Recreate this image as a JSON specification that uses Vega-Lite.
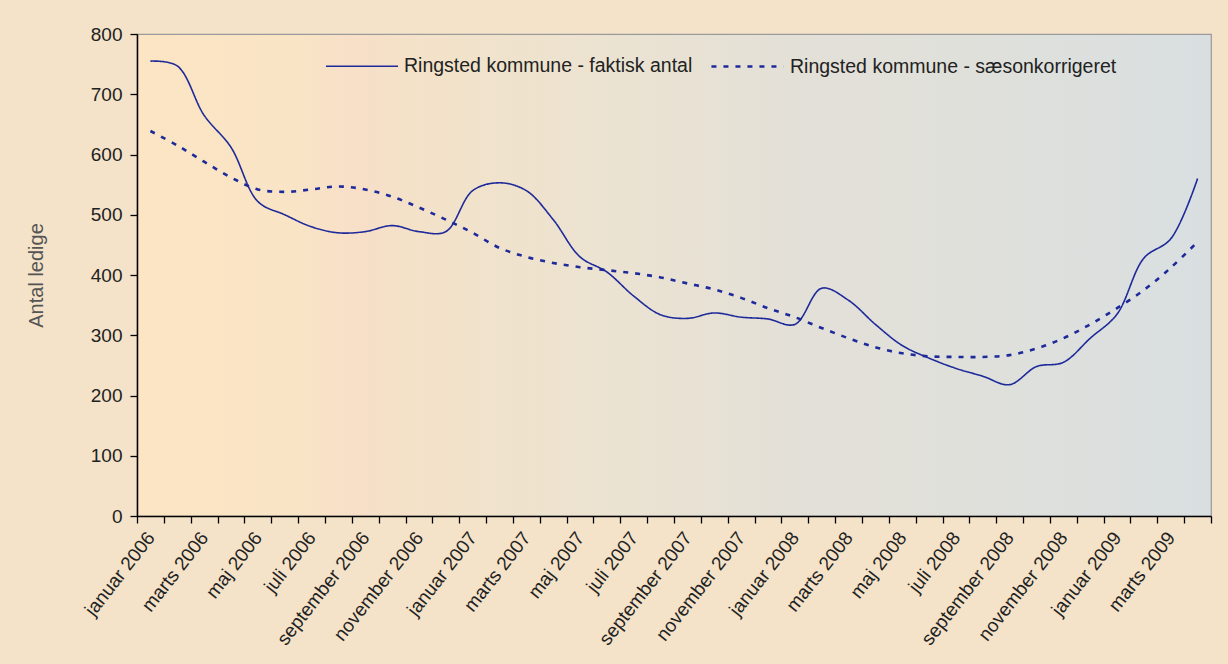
{
  "$schema": "https://vega.github.io/schema/vega-lite/v6.json",
  "width": 1074,
  "height": 482,
  "autosize": {"type": "none"},
  "padding": {"left": 137, "top": 34, "right": 17, "bottom": 148},
  "background": "#F4E3C8",
  "config": {
    "font": "Liberation Sans",
    "view": {
      "stroke": "#9A9A9A",
      "strokeWidth": 1.2,
      "fill": {
        "gradient": "linear",
        "x1": 0, "y1": 0, "x2": 1, "y2": 0,
        "stops": [
          {"offset": 0, "color": "#FBE5C3"},
          {"offset": 0.15, "color": "#F9E4C6"},
          {"offset": 0.21, "color": "#F7DFC8"},
          {"offset": 0.27, "color": "#F3E2C9"},
          {"offset": 0.43, "color": "#ECE3D1"},
          {"offset": 0.62, "color": "#E3E0D8"},
          {"offset": 0.8, "color": "#DFE0DB"},
          {"offset": 1, "color": "#D9DFE1"}
        ]
      }
    }
  },
  "data": {
    "values": [
      {"maaned": "januar 2006", "faktisk": 755, "saeson": 639},
      {"maaned": "februar 2006", "faktisk": 747, "saeson": 615},
      {"maaned": "marts 2006", "faktisk": 665, "saeson": 588},
      {"maaned": "april 2006", "faktisk": 612, "saeson": 562},
      {"maaned": "maj 2006", "faktisk": 522, "saeson": 542},
      {"maaned": "juni 2006", "faktisk": 500, "saeson": 538},
      {"maaned": "juli 2006", "faktisk": 480, "saeson": 542},
      {"maaned": "august 2006", "faktisk": 470, "saeson": 547},
      {"maaned": "september 2006", "faktisk": 472, "saeson": 542},
      {"maaned": "oktober 2006", "faktisk": 482, "saeson": 530},
      {"maaned": "november 2006", "faktisk": 472, "saeson": 512},
      {"maaned": "december 2006", "faktisk": 472, "saeson": 492},
      {"maaned": "januar 2007", "faktisk": 540, "saeson": 470},
      {"maaned": "februar 2007", "faktisk": 553, "saeson": 445},
      {"maaned": "marts 2007", "faktisk": 540, "saeson": 430},
      {"maaned": "april 2007", "faktisk": 492, "saeson": 420},
      {"maaned": "maj 2007", "faktisk": 430, "saeson": 413},
      {"maaned": "juni 2007", "faktisk": 405, "saeson": 408},
      {"maaned": "juli 2007", "faktisk": 365, "saeson": 403},
      {"maaned": "august 2007", "faktisk": 334, "saeson": 396},
      {"maaned": "september 2007", "faktisk": 328, "saeson": 386},
      {"maaned": "oktober 2007", "faktisk": 337, "saeson": 376},
      {"maaned": "november 2007", "faktisk": 330, "saeson": 362},
      {"maaned": "december 2007", "faktisk": 327, "saeson": 345},
      {"maaned": "januar 2008", "faktisk": 318, "saeson": 330},
      {"maaned": "februar 2008", "faktisk": 378, "saeson": 312},
      {"maaned": "marts 2008", "faktisk": 358, "saeson": 295},
      {"maaned": "april 2008", "faktisk": 318, "saeson": 280},
      {"maaned": "maj 2008", "faktisk": 283, "saeson": 270},
      {"maaned": "juni 2008", "faktisk": 262, "saeson": 265},
      {"maaned": "juli 2008", "faktisk": 245, "saeson": 264},
      {"maaned": "august 2008", "faktisk": 232, "saeson": 264},
      {"maaned": "september 2008", "faktisk": 218, "saeson": 267},
      {"maaned": "oktober 2008", "faktisk": 248, "saeson": 278},
      {"maaned": "november 2008", "faktisk": 255, "saeson": 295},
      {"maaned": "december 2008", "faktisk": 295, "saeson": 318},
      {"maaned": "januar 2009", "faktisk": 335, "saeson": 345},
      {"maaned": "februar 2009", "faktisk": 428, "saeson": 375},
      {"maaned": "marts 2009", "faktisk": 460, "saeson": 412},
      {"maaned": "april 2009", "faktisk": 560, "saeson": 455}
    ]
  },
  "transform": [
    {"fold": ["faktisk", "saeson"], "as": ["serie", "antal"]}
  ],
  "mark": {"type": "line", "interpolate": "catmull-rom"},
  "encoding": {
    "x": {
      "field": "maaned",
      "type": "ordinal",
      "sort": null,
      "scale": {"type": "band", "paddingInner": 0, "paddingOuter": 0},
      "axis": {
        "title": null,
        "tickBand": "extent",
        "labelAngle": -52,
        "labelAlign": "right",
        "labelBaseline": "middle",
        "labelOverlap": false,
        "labelFontSize": 19,
        "labelColor": "#222222",
        "labelPadding": 11,
        "labelExpr": "indexof(['februar','april','juni','august','oktober','december'], split(datum.label, ' ')[0]) >= 0 ? '' : datum.label",
        "domainColor": "#000000",
        "domainWidth": 1.5,
        "tickColor": "#000000",
        "tickWidth": 1.3,
        "tickSize": 7,
        "grid": false
      }
    },
    "y": {
      "field": "antal",
      "type": "quantitative",
      "scale": {"domain": [0, 800], "nice": false},
      "axis": {
        "title": "Antal ledige",
        "values": [0, 100, 200, 300, 400, 500, 600, 700, 800],
        "grid": false,
        "domainColor": "#000000",
        "domainWidth": 1.5,
        "tickColor": "#000000",
        "tickWidth": 1.3,
        "tickSize": 7,
        "labelFontSize": 19,
        "labelColor": "#222222",
        "labelPadding": 8,
        "titleFontSize": 20,
        "titleFontWeight": "normal",
        "titleColor": "#555555",
        "titlePadding": 44
      }
    },
    "color": {
      "field": "serie",
      "type": "nominal",
      "scale": {"domain": ["faktisk", "saeson"], "range": ["#1E2A9A", "#1E2A9A"]},
      "legend": {
        "orient": "none",
        "legendX": 188,
        "legendY": -5,
        "direction": "horizontal",
        "title": null,
        "padding": 0,
        "symbolType": "stroke",
        "symbolSize": 5200,
        "labelFontSize": 19.5,
        "labelColor": "#222222",
        "labelOffset": 5,
        "labelLimit": 400,
        "columnPadding": 13,
        "labelExpr": "datum.label == 'faktisk' ? 'Ringsted kommune - faktisk antal' : 'Ringsted kommune - sæsonkorrigeret'"
      }
    },
    "strokeDash": {
      "field": "serie",
      "type": "nominal",
      "scale": {"domain": ["faktisk", "saeson"], "range": [[1, 0], [5, 7]]}
    },
    "strokeWidth": {
      "field": "serie",
      "type": "nominal",
      "scale": {"domain": ["faktisk", "saeson"], "range": [1.6, 2.6]}
    }
  }
}
